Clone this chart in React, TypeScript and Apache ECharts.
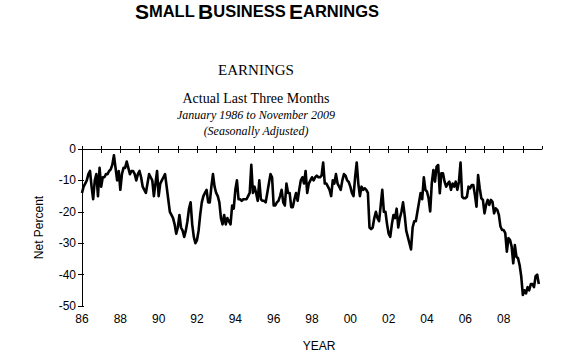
import React, { useEffect, useRef } from "react";
import * as echarts from "echarts";

const START_YEAR = 1986;
const y1986 = [-14, -12, -11, -10, -8, -7, -12, -16, -10, -8, -15, -6];
const y1987 = [-12, -9, -9, -8, -8, -7, -6.5, -5, -2, -6, -10, -7];
const y1988 = [-13, -8, -6, -6, -4, -6, -8, -7, -7, -8, -10, -8];
const y1989 = [-7, -9, -12, -13, -14, -11, -8, -9, -10, -15, -11, -7];
const y1990 = [-15, -11, -10, -9, -8, -12, -16, -20, -21, -22, -24, -27];
const y1991 = [-25, -21, -25, -26, -28, -26, -23, -19, -17, -24, -28, -30];
const y1992 = [-29, -26, -21, -17, -15, -14, -13, -17, -17, -12, -8, -12];
const y1993 = [-14, -15, -17, -22, -24, -21, -24, -22, -23, -24, -18, -19];
const y1994 = [-13, -10, -16, -16, -16.5, -16, -16, -16, -15, -14, -5, -14];
const y1995 = [-12, -14, -16.5, -10, -16, -16.5, -16.5, -17, -14, -11, -8, -9];
const y1996 = [-18, -18, -17, -16.5, -15, -13, -17, -18, -11, -14, -14, -18.5];
const y1997 = [-18.5, -16, -14, -16.5, -13, -10, -9, -11, -7, -14, -11, -10];
const y1998 = [-9, -10, -9, -8.5, -9, -9, -8.5, -4.3, -11, -11, -12, -13];
const y1999 = [-15, -10, -11, -8, -11, -12, -13, -10, -8, -8.5, -10, -10.5];
const y2000 = [-12, -14, -15, -9, -4.3, -11, -15, -12, -13, -12.5, -13, -14];
const y2001 = [-25, -25.5, -25, -22, -20, -22, -23, -18, -13, -20, -20, -24];
const y2002 = [-27, -28, -24, -21, -22, -19, -25, -22, -20, -17, -21, -26];
const y2003 = [-28, -30, -32, -25, -23, -23, -20, -17, -14, -16, -9, -13];
const y2004 = [-13.6, -15.7, -19.9, -10.9, -6.7, -10.4, -5.6, -5.1, -14.1, -7.7, -7.7, -10.4];
const y2005 = [-12, -11, -10.4, -13, -11, -12, -10.4, -13, -10.4, -4.3, -15.2, -15.7];
const y2006 = [-15.7, -15.2, -12, -12.5, -11.5, -11.5, -14.7, -18.4, -8.3, -12.5, -15.7, -16.2];
const y2007 = [-20.5, -17.8, -16.2, -17.8, -16.2, -16.8, -20.5, -18.9, -19.4, -21, -24.7, -25.8];
const y2008 = [-25.8, -26.8, -32.7, -28.4, -29, -31.1, -36.4, -30.6, -34.3, -34.8, -37, -40.6];
const y2009 = [-46.5, -45, -46, -44, -45, -43, -43, -44, -40.5, -40, -43];

const yearlyValues = [
  y1986, y1987, y1988, y1989, y1990, y1991, y1992, y1993, y1994, y1995, y1996, y1997,
  y1998, y1999, y2000, y2001, y2002, y2003, y2004, y2005, y2006, y2007, y2008, y2009,
];

const yTicks = [0, -10, -20, -30, -40, -50];

const SANS = "'Liberation Sans', Arial, sans-serif";
const SERIF = "'Liberation Serif', 'Times New Roman', serif";

export default function App() {
  const ref = useRef<HTMLDivElement>(null);
  useEffect(() => {
    if (!ref.current) return;
    const chart = echarts.init(ref.current, undefined, { renderer: "svg" });
    const data: [number, number][] = [];
    yearlyValues.forEach((arr, yi) => {
      arr.forEach((v, m) => {
        data.push([START_YEAR + yi + m / 12, v]);
      });
    });
    const gridTop = 149;
    const gridBottom = 49;
    chart.setOption({
      animation: false,
      backgroundColor: "#fff",
      grid: { left: 82, right: 38, top: gridTop, bottom: gridBottom },
      graphic: [
        {
          type: "text",
          x: 257,
          y: 11,
          style: {
            text: "{a|S}{b|MALL} {a|B}{b|USINESS} {a|E}{b|ARNINGS}",
            align: "center",
            verticalAlign: "middle",
            fill: "#000",
            rich: {
              a: { fontFamily: SANS, fontWeight: "bold", fontSize: 21, fill: "#000" },
              b: { fontFamily: SANS, fontWeight: "bold", fontSize: 16.5, fill: "#000" },
            },
          },
        },
        {
          type: "text",
          x: 256,
          y: 70,
          style: { text: "EARNINGS", font: `15px ${SERIF}`, fill: "#000", align: "center", verticalAlign: "middle" },
        },
        {
          type: "text",
          x: 256,
          y: 98,
          style: { text: "Actual Last Three Months", font: `14px ${SERIF}`, fill: "#000", align: "center", verticalAlign: "middle" },
        },
        {
          type: "text",
          x: 256,
          y: 115,
          style: { text: "January 1986 to November 2009", font: `italic 12px ${SERIF}`, fill: "#000", align: "center", verticalAlign: "middle" },
        },
        {
          type: "text",
          x: 256,
          y: 131,
          style: { text: "(Seasonally Adjusted)", font: `italic 12px ${SERIF}`, fill: "#000", align: "center", verticalAlign: "middle" },
        },
        {
          type: "text",
          x: 319,
          y: 346,
          style: { text: "YEAR", font: `12px ${SANS}`, fill: "#000", align: "center", verticalAlign: "middle" },
        },
      ],
      xAxis: [
        {
          type: "value",
          position: "bottom",
          min: 1986,
          max: 2010,
          interval: 1,
          splitLine: { show: false },
          axisLine: { show: true, lineStyle: { color: "#000", width: 1 } },
          axisTick: { show: true, inside: false, length: 4, lineStyle: { color: "#000" } },
          axisLabel: {
            color: "#000",
            fontFamily: SANS,
            fontSize: 12,
            margin: 7,
            showMaxLabel: false,
            formatter: (v: number) => (v % 2 === 0 && v < 2010 ? String(v).slice(2) : ""),
          },
        },
        {
          type: "value",
          position: "bottom",
          min: 1986,
          max: 2010,
          interval: 1,
          splitLine: { show: false },
          axisLine: { show: false },
          axisTick: { show: true, inside: true, length: 3, lineStyle: { color: "#000" } },
          axisLabel: { show: false },
        },
      ],
      yAxis: [
        {
          type: "value",
          position: "left",
          min: -50,
          max: 0,
          interval: 10,
          name: "Net Percent",
          nameLocation: "middle",
          nameGap: 37,
          nameRotate: 90,
          nameTextStyle: { color: "#000", fontFamily: SANS, fontSize: 12 },
          splitLine: { show: false },
          axisLine: { show: true, lineStyle: { color: "#000", width: 1 } },
          axisTick: { show: true, inside: false, length: 4, lineStyle: { color: "#000" } },
          axisLabel: {
            color: "#000",
            fontFamily: SANS,
            fontSize: 12,
            margin: 6,
            formatter: (v: number) => (yTicks.includes(v) ? String(v) : ""),
          },
        },
        {
          type: "value",
          position: "left",
          min: -50,
          max: 0,
          interval: 10,
          splitLine: { show: false },
          axisLine: { show: false },
          axisTick: { show: true, inside: true, length: 2, lineStyle: { color: "#000" } },
          axisLabel: { show: false },
        },
      ],
      series: [
        {
          type: "line",
          xAxisIndex: 0,
          yAxisIndex: 0,
          data,
          showSymbol: false,
          symbol: "none",
          lineStyle: { color: "#000", width: 2.6, join: "round" },
        },
      ],
    });
    return () => chart.dispose();
  }, []);
  return <div ref={ref} style={{ position: "fixed", left: 0, top: 0, width: 580, height: 355 }} />;
}
